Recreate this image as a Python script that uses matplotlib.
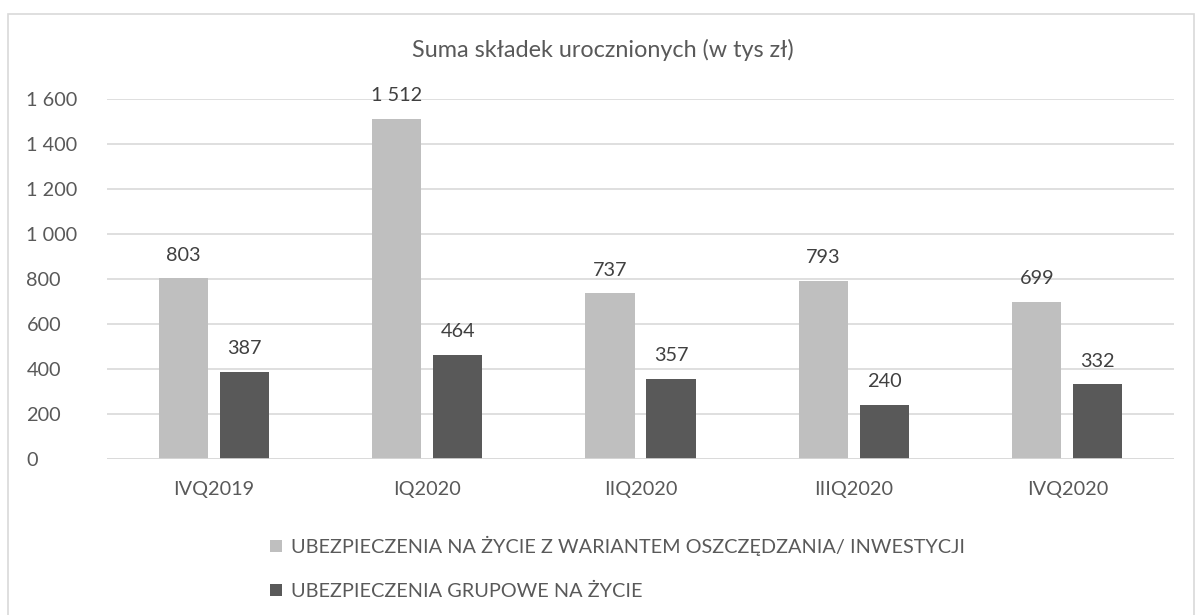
import matplotlib
matplotlib.use("Agg")
import matplotlib.pyplot as plt
from matplotlib.patches import Rectangle
import numpy as np

categories = ["IVQ2019", "IQ2020", "IIQ2020", "IIIQ2020", "IVQ2020"]
series_names = ["UBEZPIECZENIA NA ŻYCIE Z WARIANTEM OSZCZĘDZANIA/ INWESTYCJI",
                "UBEZPIECZENIA GRUPOWE NA ŻYCIE"]
savings = [803, 1512, 737, 793, 699]
group = [387, 464, 357, 240, 332]
yticks = [0, 200, 400, 600, 800, 1000, 1200, 1400, 1600]
title = "Suma składek urocznionych (w tys zł)"

plt.rcParams['font.family'] = ['Lato', 'DejaVu Sans']
txt = "#595959"
c_light = "#BFBFBF"
c_dark = "#595959"
FS = 14.3

W, H = 1202, 615
fig = plt.figure(figsize=(W/100, H/100), dpi=100)
# border
fig.add_artist(Rectangle((8/W, -0.01), (1194-8)/W, (H-14)/H + 0.01, transform=fig.transFigure,
                         fill=False, edgecolor="#D9D9D9", linewidth=1.2))

ax = fig.add_axes([107/W, 1-459/H, (1174-107)/W, (459-99)/H])
x = np.arange(len(categories))
bw = 0.23
off = 0.143
b1 = ax.bar(x - off, savings, bw, color=c_light, label=series_names[0], zorder=3)
b2 = ax.bar(x + off, group, bw, color=c_dark, label=series_names[1], zorder=3)
for bars, vals in ((b1, savings), (b2, group)):
    for r, v in zip(bars, vals):
        s = f"{v:,}".replace(",", " ")
        ax.annotate(s, (r.get_x() + r.get_width()/2, v), xytext=(0, 10.5), textcoords="offset points",
                    ha="center", va="bottom", fontsize=FS, color="#404040")

ax.set_xlim(-0.5, len(categories) - 0.5)
ax.set_ylim(0, 1600)
ax.set_yticks(yticks)
ax.set_yticklabels([f"{v:,}".replace(",", " ") for v in yticks])
ax.set_xticks(x)
ax.set_xticklabels(categories)
ax.tick_params(axis="both", length=0, labelsize=FS, colors=txt)
ax.tick_params(axis="x", pad=16)
for lbl in ax.get_yticklabels():
    lbl.set_horizontalalignment("left")
ax.yaxis.set_tick_params(pad=58)
ax.grid(axis="y", color="#D9D9D9", linewidth=1.2, zorder=0)
ax.axhline(0, color="#D9D9D9", linewidth=1.2, zorder=4)
for s in ax.spines.values():
    s.set_visible(False)

fig.text(603/W, 1-50/H, title, ha="center", va="center", fontsize=16.8, color=txt)

leg = fig.legend(handles=[b1, b2], labels=series_names, loc="upper left",
                 bbox_to_anchor=(252/W, 1-518/H), frameon=False, fontsize=FS,
                 labelcolor=txt, handlelength=0.6, handleheight=0.6, handletextpad=0.45,
                 labelspacing=1.35)

fig.savefig("out.png", dpi=100)
